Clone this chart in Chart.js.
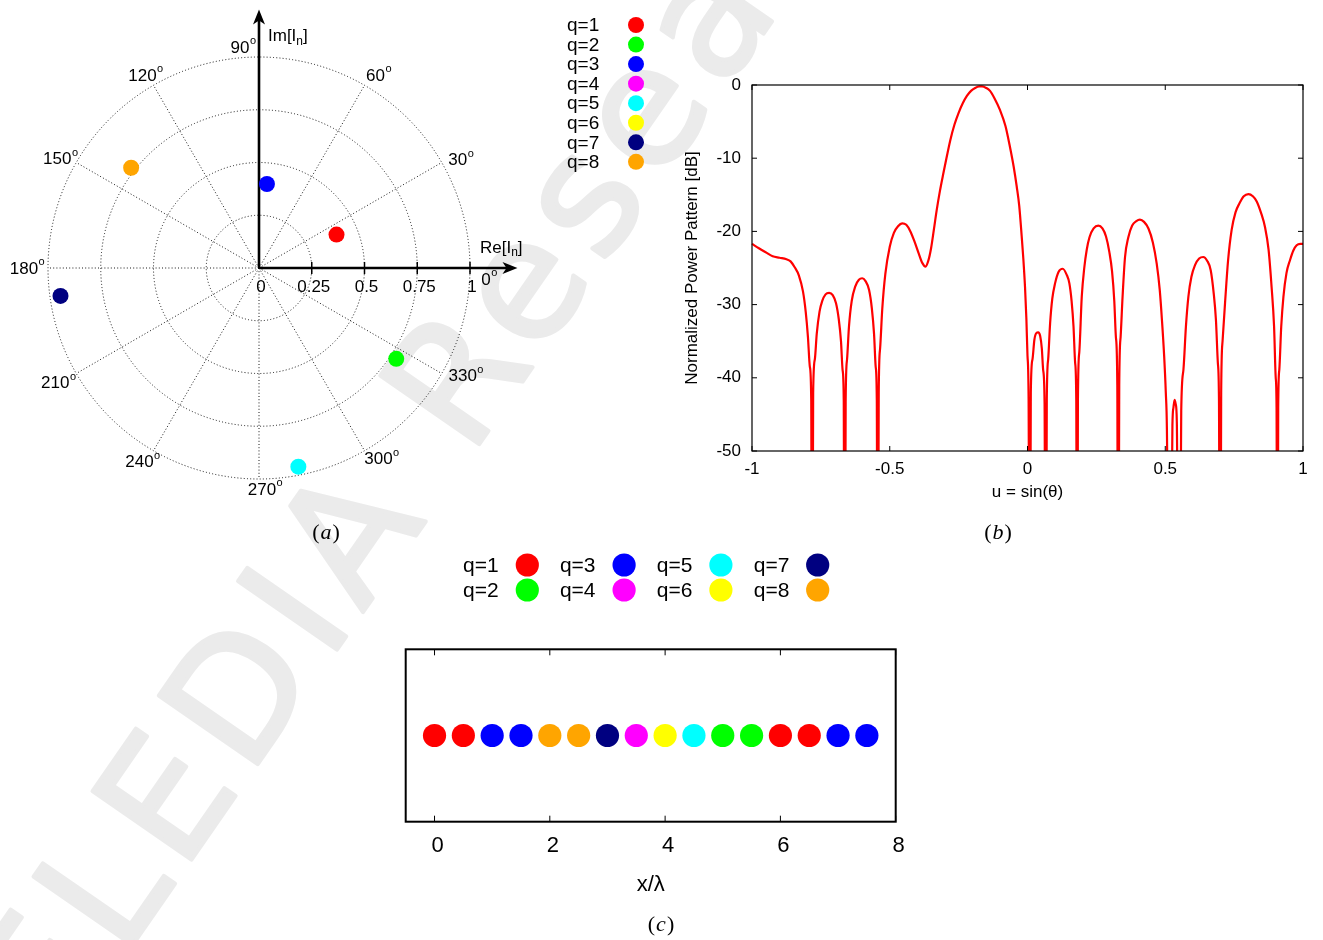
<!DOCTYPE html>
<html>
<head>
<meta charset="utf-8">
<script src="https://cdn.jsdelivr.net/npm/chart.js@4.4.1/dist/chart.umd.min.js"></script>
<style>
  html, body { margin: 0; padding: 0; background: #fff; }
  body { width: 1323px; height: 940px; position: relative; overflow: hidden; }
  canvas { position: absolute; }
  #wm { left: 0; top: 0; }
  #polar { left: 0; top: 0; }
  #pattern { left: 545px; top: 0; }
  #layout { left: 380px; top: 545px; }
</style>
</head>
<body>
<canvas id="wm" width="1323" height="940"></canvas>
<canvas id="polar" width="545" height="545"></canvas>
<canvas id="pattern" width="778" height="545"></canvas>
<canvas id="layout" width="560" height="395"></canvas>
<script>
// ---- groups (q) ----
const groupLabels = ['q=1', 'q=2', 'q=3', 'q=4', 'q=5', 'q=6', 'q=7', 'q=8'];
const groupColors = ['#ff0000', '#00ff00', '#0000ff', '#ff00ff', '#00ffff', '#ffff00', '#000080', '#ffa500'];

// ---- (a) complex excitations per group: amplitude and phase [deg] ----
const excitationAmp = [0.40, 0.78, 0.40, null, 0.96, null, 0.95, 0.77];
const excitationPhaseDeg = [23.3, 326.5, 84.6, null, 281.2, null, 188.0, 141.9];
const polarRings = [0.25, 0.5, 0.75, 1];
const polarTickValues = [0, 0.25, 0.5, 0.75, 1];
const polarTickLabels = ['0', '0.25', '0.5', '0.75', '1'];
const polarAngles = [0, 30, 60, 90, 120, 150, 180, 210, 240, 270, 300, 330];

// ---- (b) normalized power pattern ----
const uValues = [
  -1.000,-0.975,-0.948,-0.925,-0.900,-0.875,-0.860,-0.845,-0.830,-0.815,
  -0.805,-0.797,-0.790,-0.785,-0.782,-0.778,-0.772,-0.765,-0.755,-0.745,
  -0.733,-0.720,-0.707,-0.695,-0.685,-0.677,-0.671,-0.667,-0.664,-0.660,
  -0.655,-0.648,-0.638,-0.625,-0.612,-0.600,-0.588,-0.575,-0.565,-0.557,
  -0.551,-0.547,-0.544,-0.540,-0.535,-0.527,-0.516,-0.500,-0.485,-0.470,
  -0.455,-0.440,-0.425,-0.410,-0.395,-0.382,-0.370,-0.360,-0.350,-0.340,
  -0.330,-0.318,-0.305,-0.292,-0.280,-0.265,-0.250,-0.235,-0.220,-0.205,
  -0.190,-0.175,-0.165,-0.150,-0.136,-0.120,-0.100,-0.080,-0.064,-0.050,
  -0.039,-0.030,-0.021,-0.015,-0.009,-0.004,0.000,0.004,0.008,0.012,
  0.018,0.025,0.032,0.039,0.046,0.052,0.057,0.062,0.066,0.070,
  0.075,0.082,0.090,0.100,0.113,0.128,0.142,0.152,0.160,0.167,
  0.173,0.177,0.180,0.183,0.188,0.197,0.206,0.215,0.225,0.240,
  0.257,0.272,0.285,0.297,0.307,0.315,0.321,0.326,0.329,0.333,
  0.338,0.345,0.354,0.366,0.380,0.395,0.408,0.423,0.439,0.455,
  0.469,0.480,0.488,0.496,0.502,0.506,0.516,0.526,0.530,0.534,
  0.538,0.542,0.550,0.558,0.566,0.575,0.584,0.595,0.608,0.623,
  0.638,0.652,0.665,0.676,0.684,0.691,0.695,0.699,0.703,0.708,
  0.717,0.728,0.741,0.755,0.769,0.785,0.802,0.818,0.832,0.848,
  0.862,0.875,0.886,0.895,0.901,0.904,0.907,0.910,0.914,0.921,
  0.929,0.940,0.953,0.965,0.977,0.990,1.000
];
const patternDb = [
  -21.7,-22.3,-22.9,-23.4,-23.6,-23.8,-24.1,-24.9,-26.0,-28.2,
  -31.0,-34.4,-38.5,-43.0,-90,-42.0,-37.5,-34.0,-31.0,-29.5,
  -28.6,-28.4,-28.7,-29.8,-32.0,-35.0,-39.0,-43.0,-90,-43.0,
  -37.5,-33.0,-29.5,-27.5,-26.6,-26.4,-26.8,-28.0,-30.5,-34.0,
  -38.5,-43.0,-90,-42.0,-36.0,-30.5,-25.8,-22.1,-20.2,-19.3,
  -18.9,-19.1,-20.0,-21.4,-23.0,-24.3,-24.8,-24.0,-22.3,-19.8,
  -17.2,-14.5,-12.0,-9.6,-7.5,-5.4,-3.8,-2.5,-1.5,-0.8,
  -0.4,-0.2,-0.2,-0.4,-0.8,-1.8,-3.4,-5.6,-8.4,-11.2,
  -13.9,-16.5,-20.7,-23.8,-27.6,-32.0,-37.0,-43.0,-90,-42.0,
  -37.5,-34.8,-33.9,-33.8,-34.3,-36.0,-39.0,-43.5,-90,-43.0,
  -37.5,-32.6,-29.2,-27.1,-25.5,-25.1,-25.9,-27.1,-29.5,-33.0,
  -38.0,-43.0,-90,-43.0,-36.5,-28.9,-25.0,-22.5,-20.8,-19.6,
  -19.2,-19.6,-20.7,-22.8,-25.5,-29.5,-34.5,-41.0,-90,-41.0,
  -34.4,-29.0,-23.5,-20.8,-19.2,-18.6,-18.4,-18.7,-19.6,-21.5,
  -24.4,-28.0,-32.1,-37.0,-42.0,-47.0,-90,-46.5,-44.0,-43.0,
  -43.6,-46.0,-90,-44.5,-38.9,-33.0,-28.9,-26.2,-24.6,-23.7,
  -23.5,-24.0,-25.3,-28.5,-32.1,-38.0,-43.0,-90,-42.0,-35.0,
  -29.8,-24.0,-19.8,-17.4,-16.2,-15.2,-14.9,-15.2,-15.9,-17.5,
  -19.4,-22.5,-27.6,-33.0,-40.0,-44.0,-90,-44.0,-38.9,-33.0,
  -28.9,-25.7,-23.9,-22.6,-21.9,-21.7,-21.7
];
const patternXTicks = [-1, -0.5, 0, 0.5, 1];
const patternYTicks = [-50, -40, -30, -20, -10, 0];

// ---- (c) element positions x/lambda and their group ----
const elementPos = [0, 0.5, 1, 1.5, 2, 2.5, 3, 3.5, 4, 4.5, 5, 5.5, 6, 6.5, 7, 7.5];
const elementGroup = [1, 1, 3, 3, 8, 8, 7, 4, 6, 5, 2, 2, 1, 1, 3, 3];
const layoutXTicks = [0, 2, 4, 6, 8];

// ---------------------------------------------------------------
const SANS = '"Liberation Sans", Arial, Helvetica, sans-serif';
const SERIF = '"Liberation Serif", "DejaVu Serif", serif';
Chart.defaults.font.family = SANS;
Chart.defaults.color = '#000';

function drawCaption(ctx, letter, cx, cy) {
  ctx.save();
  ctx.textBaseline = 'middle';
  ctx.textAlign = 'left';
  const up = '22px ' + SERIF, it = 'italic 22px ' + SERIF;
  ctx.font = up; const wp = ctx.measureText('(').width;
  ctx.font = it; const wl = ctx.measureText(letter).width + 2;
  const x0 = cx - (2 * wp + wl) / 2;
  ctx.fillStyle = '#000';
  ctx.font = up; ctx.fillText('(', x0, cy);
  ctx.font = it; ctx.fillText(letter, x0 + wp + 1, cy);
  ctx.font = up; ctx.fillText(')', x0 + wp + wl, cy);
  ctx.restore();
}

function drawDegreeLabel(ctx, num, cx, cy) {
  ctx.font = '17px ' + SANS;
  const w1 = ctx.measureText(num).width;
  ctx.font = '11px ' + SANS;
  const w2 = ctx.measureText('o').width;
  const x0 = cx - (w1 + w2) / 2;
  ctx.textAlign = 'left';
  ctx.textBaseline = 'middle';
  ctx.font = '17px ' + SANS;
  ctx.fillText(num, x0, cy);
  ctx.font = '11px ' + SANS;
  ctx.fillText('o', x0 + w1 + 0.5, cy - 7);
}

function drawArrowHead(ctx, x, y, dir) {
  // dir: 'right' or 'up'
  ctx.save();
  ctx.translate(x, y);
  if (dir === 'up') ctx.rotate(-Math.PI / 2);
  ctx.beginPath();
  ctx.moveTo(0, 0);
  ctx.lineTo(-15, -6);
  ctx.lineTo(-11, 0);
  ctx.lineTo(-15, 6);
  ctx.closePath();
  ctx.fill();
  ctx.restore();
}

// ---- watermark ----
(function () {
  const c = document.getElementById('wm').getContext('2d');
  c.save();
  c.translate(57, 1054);
  c.rotate(-55.3 * Math.PI / 180);
  c.font = '165px "DejaVu Sans", sans-serif';
  c.letterSpacing = '12px';
  c.fillStyle = '#ebebeb';
  c.strokeStyle = '#ebebeb';
  c.lineWidth = 4;
  c.lineJoin = 'round';
  c.fillText('ELEDIA Research', 0, 0);
  c.strokeText('ELEDIA Research', 0, 0);
  c.restore();
})();

// ---- (a) polar diagram of the excitations ----
const PX_PER_UNIT = 211, POLAR_CX = 259, POLAR_CY = 268, POLAR_W = 545, POLAR_H = 545;
const angleLabelNudge = {
  0: [19, 12], 30: [19, -2], 60: [14, -9], 90: [-16, -9], 120: [-8, -9], 150: [-16, -3],
  180: [-21, 1], 210: [-18, 10], 240: [-11, 12], 270: [6, 11], 300: [17, 9], 330: [24, 3]
};
const AXIS_END = 1.225;

const polarGridPlugin = {
  id: 'polarGrid',
  beforeDatasetsDraw(chart) {
    const ctx = chart.ctx, sx = chart.scales.x, sy = chart.scales.y;
    const px = v => sx.getPixelForValue(v), py = v => sy.getPixelForValue(v);
    const cx = px(0), cy = py(0), k = px(1) - cx;
    ctx.save();
    // dotted rings and spokes
    ctx.strokeStyle = 'rgba(0,0,0,0.9)';
    ctx.lineWidth = 1;
    ctx.setLineDash([1, 2.2]);
    polarRings.forEach(r => {
      ctx.beginPath(); ctx.arc(cx, cy, r * k, 0, 2 * Math.PI); ctx.stroke();
    });
    polarAngles.forEach(a => {
      if (a === 0 || a === 90) return;
      const t = a * Math.PI / 180;
      ctx.beginPath(); ctx.moveTo(cx, cy);
      ctx.lineTo(px(Math.cos(t)), py(Math.sin(t))); ctx.stroke();
    });
    ctx.setLineDash([]);
    // axes with arrows
    ctx.strokeStyle = '#000'; ctx.fillStyle = '#000'; ctx.lineWidth = 2.6;
    const xe = px(AXIS_END), ye = py(AXIS_END);
    ctx.beginPath(); ctx.moveTo(cx, cy); ctx.lineTo(xe - 10, cy); ctx.stroke();
    ctx.beginPath(); ctx.moveTo(cx, cy); ctx.lineTo(cx, ye + 10); ctx.stroke();
    drawArrowHead(ctx, xe, cy, 'right');
    drawArrowHead(ctx, cx, ye, 'up');
    // radial ticks
    ctx.lineWidth = 1.5;
    polarTickValues.forEach(v => {
      if (v === 0) return;
      ctx.beginPath(); ctx.moveTo(px(v), cy - 6); ctx.lineTo(px(v), cy + 6); ctx.stroke();
    });
    // tick labels
    ctx.font = '17px ' + SANS; ctx.textAlign = 'center'; ctx.textBaseline = 'middle';
    polarTickValues.forEach((v, i) => ctx.fillText(polarTickLabels[i], px(v) + 2, cy + 19));
    // angle labels
    polarAngles.forEach(a => {
      const t = a * Math.PI / 180, n = angleLabelNudge[a];
      drawDegreeLabel(ctx, String(a), px(Math.cos(t)) + n[0], py(Math.sin(t)) + n[1]);
    });
    // axis names
    const subLabel = (main, x, y) => {
      ctx.textAlign = 'left'; ctx.textBaseline = 'middle';
      ctx.font = '17px ' + SANS; ctx.fillText(main, x, y);
      let w = ctx.measureText(main).width;
      ctx.font = '12px ' + SANS; ctx.fillText('n', x + w, y + 5);
      w += ctx.measureText('n').width;
      ctx.font = '17px ' + SANS; ctx.fillText(']', x + w, y);
    };
    subLabel('Im[I', cx + 9, ye + 27);
    subLabel('Re[I', px(1) + 10, cy - 20);
    drawCaption(ctx, 'a', 326, 533);
    ctx.restore();
  }
};

const polarDatasets = groupLabels.map((lab, i) => {
  const a = excitationAmp[i], ph = excitationPhaseDeg[i];
  const pts = a == null ? [] : [{ x: a * Math.cos(ph * Math.PI / 180), y: a * Math.sin(ph * Math.PI / 180) }];
  return {
    label: lab, data: pts,
    backgroundColor: groupColors[i], borderColor: groupColors[i],
    pointRadius: 8, pointHoverRadius: 8, borderWidth: 0, clip: false
  };
});

new Chart(document.getElementById('polar'), {
  type: 'scatter',
  data: { datasets: polarDatasets },
  options: {
    responsive: false, animation: false, devicePixelRatio: 1, events: [],
    layout: { padding: 0, autoPadding: false },
    plugins: { legend: { display: false }, tooltip: { enabled: false } },
    scales: {
      x: { type: 'linear', display: false, min: -POLAR_CX / PX_PER_UNIT, max: (POLAR_W - POLAR_CX) / PX_PER_UNIT },
      y: { type: 'linear', display: false, min: -(POLAR_H - POLAR_CY) / PX_PER_UNIT, max: POLAR_CY / PX_PER_UNIT }
    }
  },
  plugins: [polarGridPlugin]
});

// ---- (b) power pattern ----
const boxTicksPlugin = {
  id: 'boxTicks',
  afterDatasetsDraw(chart, args, opts) {
    const ctx = chart.ctx, a = chart.chartArea;
    const sx = chart.scales.x, sy = chart.scales.y;
    ctx.save();
    ctx.strokeStyle = '#000';
    ctx.lineWidth = opts.lineWidth || 1;
    ctx.strokeRect(a.left, a.top, a.right - a.left, a.bottom - a.top);
    const L = opts.tickLen || 5;
    ctx.lineWidth = 1;
    (opts.xTicks || []).forEach(v => {
      const x = sx.getPixelForValue(v);
      ctx.beginPath();
      ctx.moveTo(x, a.bottom); ctx.lineTo(x, a.bottom - L);
      ctx.moveTo(x, a.top); ctx.lineTo(x, a.top + L);
      ctx.stroke();
    });
    (opts.yTicks || []).forEach(v => {
      const y = sy.getPixelForValue(v);
      ctx.beginPath();
      ctx.moveTo(a.left, y); ctx.lineTo(a.left + L, y);
      ctx.moveTo(a.right, y); ctx.lineTo(a.right - L, y);
      ctx.stroke();
    });
    ctx.restore();
  }
};

const sideLegendPlugin = {
  id: 'sideLegend',
  afterDraw(chart) {
    const ctx = chart.ctx;
    ctx.save();
    ctx.font = '19px ' + SANS; ctx.textAlign = 'left'; ctx.textBaseline = 'middle';
    groupLabels.forEach((lab, i) => {
      const y = 25 + i * 19.55;
      ctx.fillStyle = '#000';
      ctx.fillText(lab, 22, y + 1);
      ctx.fillStyle = groupColors[i];
      ctx.beginPath(); ctx.arc(91, y, 8, 0, 2 * Math.PI); ctx.fill();
    });
    drawCaption(ctx, 'b', 453, 533);
    ctx.restore();
  }
};

new Chart(document.getElementById('pattern'), {
  type: 'line',
  data: {
    datasets: [{
      label: 'Normalized Power Pattern',
      data: uValues.map((u, i) => ({ x: u, y: patternDb[i] })),
      borderColor: '#ff0000', borderWidth: 2.2, pointRadius: 0,
      cubicInterpolationMode: 'monotone', fill: false,
      clip: { left: 1, top: 5, right: 1, bottom: 0 }
    }]
  },
  options: {
    responsive: false, animation: false, devicePixelRatio: 1, events: [],
    layout: { padding: { left: 130, right: 20, top: 85, bottom: 0 }, autoPadding: false },
    plugins: {
      legend: { display: false }, tooltip: { enabled: false },
      boxTicks: { xTicks: patternXTicks, yTicks: patternYTicks, tickLen: 5, lineWidth: 1.2 }
    },
    scales: {
      x: {
        type: 'linear', min: -1, max: 1,
        afterBuildTicks: s => { s.ticks = patternXTicks.map(v => ({ value: v })); },
        afterFit: s => { s.height = 94; },
        grid: { display: false, drawTicks: false }, border: { display: false },
        ticks: { padding: 8, font: { size: 17 }, color: '#000', maxRotation: 0, callback: v => String(v) },
        title: { display: true, text: 'u = sin(\u03B8)', font: { size: 17 }, color: '#000', padding: { top: 0, bottom: 42 } }
      },
      y: {
        type: 'linear', min: -50, max: 0,
        afterBuildTicks: s => { s.ticks = patternYTicks.map(v => ({ value: v })); },
        afterFit: s => { s.width = 77; },
        grid: { display: false, drawTicks: false }, border: { display: false },
        ticks: { padding: 11, font: { size: 17 }, color: '#000', callback: v => String(v) },
        title: { display: true, text: 'Normalized Power Pattern [dB]', font: { size: 17 }, color: '#000', padding: { top: 7, bottom: 0 } }
      }
    }
  },
  plugins: [boxTicksPlugin, sideLegendPlugin]
});

// ---- (c) array layout ----
const gridLegendPlugin = {
  id: 'gridLegend',
  afterDraw(chart) {
    const ctx = chart.ctx;
    ctx.save();
    ctx.font = '21px ' + SANS; ctx.textAlign = 'left'; ctx.textBaseline = 'middle';
    groupLabels.forEach((lab, i) => {
      const col = Math.floor(i / 2), row = i % 2;
      const y = 20 + row * 25;
      ctx.fillStyle = '#000';
      ctx.fillText(lab, 83 + col * 96.9, y + 1.5);
      ctx.fillStyle = groupColors[i];
      ctx.beginPath(); ctx.arc(147.3 + col * 96.8, y, 11.6, 0, 2 * Math.PI); ctx.fill();
    });
    drawCaption(ctx, 'c', 281, 380);
    ctx.restore();
  }
};

new Chart(document.getElementById('layout'), {
  type: 'scatter',
  data: {
    datasets: [{
      label: 'elements',
      data: elementPos.map(x => ({ x: x, y: 0 })),
      pointBackgroundColor: elementGroup.map(g => groupColors[g - 1]),
      pointBorderWidth: 0, pointRadius: 11.6, pointHoverRadius: 11.6, clip: false
    }]
  },
  options: {
    responsive: false, animation: false, devicePixelRatio: 1, events: [],
    layout: { padding: { left: 25.7, right: 44.3, top: 104.3, bottom: 0 }, autoPadding: false },
    plugins: {
      legend: { display: false }, tooltip: { enabled: false },
      boxTicks: { xTicks: layoutXTicks, yTicks: [], tickLen: 6, lineWidth: 2 }
    },
    scales: {
      x: {
        type: 'linear', min: -0.5, max: 8,
        afterBuildTicks: s => { s.ticks = layoutXTicks.map(v => ({ value: v })); },
        afterFit: s => { s.height = 118.3; },
        grid: { display: false, drawTicks: false }, border: { display: false },
        ticks: { padding: 11, font: { size: 22 }, color: '#000', labelOffset: 3, maxRotation: 0, callback: v => String(v) },
        title: { display: true, text: 'x/\u03BB', font: { size: 22 }, color: '#000', padding: { top: 0, bottom: 42 } }
      },
      y: { type: 'linear', display: false, min: -1, max: 1 }
    }
  },
  plugins: [boxTicksPlugin, gridLegendPlugin]
});
</script>
</body>
</html>
